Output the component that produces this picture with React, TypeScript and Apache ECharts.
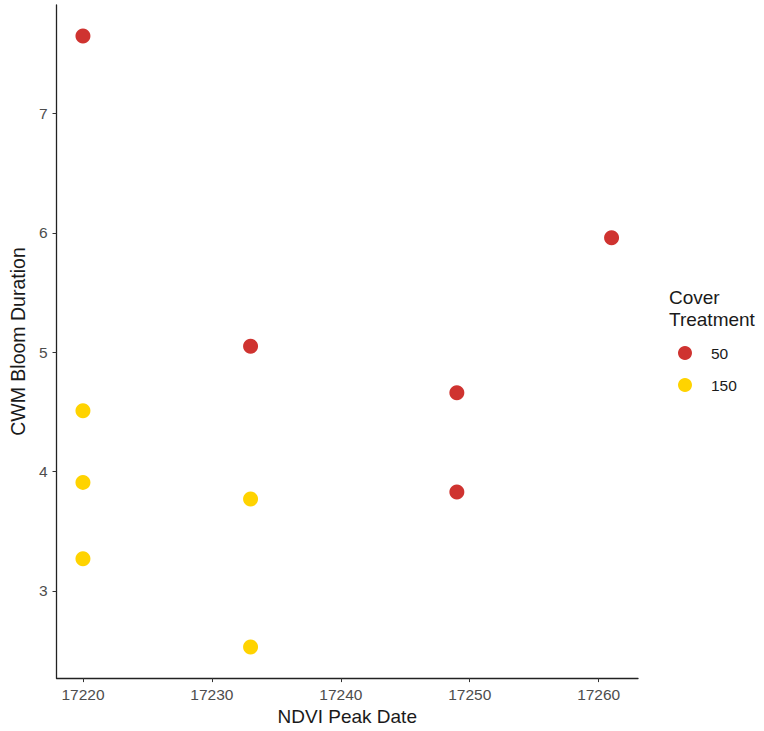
import React, { useEffect, useRef } from "react";
import * as echarts from "echarts";

const xTicks = [17220, 17230, 17240, 17250, 17260];
const yTicks = [3, 4, 5, 6, 7];

const seriesNames = ["50", "150"];
const seriesColors = ["#CF3330", "#FFD300"];

// [NDVI Peak Date, CWM Bloom Duration]
const cover50: [number, number][] = [
  [17220, 7.65],
  [17233, 5.05],
  [17249, 4.66],
  [17249, 3.83],
  [17261, 5.96],
];
const cover150: [number, number][] = [
  [17220, 4.51],
  [17220, 3.91],
  [17220, 3.27],
  [17233, 3.77],
  [17233, 2.53],
];

const FONT = "'Liberation Sans', Arial, Helvetica, sans-serif";

export default function App() {
  const ref = useRef<HTMLDivElement>(null);
  useEffect(() => {
    if (!ref.current) return;
    const chart = echarts.init(ref.current, null, { renderer: "svg" });
    const datasets = [cover50, cover150];
    chart.setOption({
      animation: false,
      backgroundColor: "#ffffff",
      textStyle: { fontFamily: FONT },
      grid: { left: 55, right: 126, top: 5, bottom: 49, containLabel: false },
      xAxis: {
        type: "value",
        min: 17217.95,
        max: 17263.05,
        name: "NDVI Peak Date",
        nameLocation: "middle",
        nameGap: 26,
        nameTextStyle: { color: "#1a1a1a", fontSize: 19, fontFamily: FONT },
        axisLine: { show: true, lineStyle: { color: "#222", width: 1.3 } },
        axisTick: {
          show: true,
          length: 4,
          lineStyle: { color: "#333" },
          customValues: xTicks,
        },
        axisLabel: {
          color: "#4d4d4d",
          fontSize: 15.5,
          margin: 8,
          fontFamily: FONT,
          customValues: xTicks,
          formatter: (v: number) => String(v),
        },
        splitLine: { show: false },
      },
      yAxis: {
        type: "value",
        min: 2.27,
        max: 7.91,
        name: "CWM Bloom Duration",
        nameLocation: "middle",
        nameGap: 25,
        nameTextStyle: { color: "#1a1a1a", fontSize: 19.5, fontFamily: FONT },
        axisLine: { show: true, lineStyle: { color: "#222", width: 1.3 } },
        axisTick: {
          show: true,
          length: 4,
          lineStyle: { color: "#333" },
          customValues: yTicks,
        },
        axisLabel: {
          color: "#4d4d4d",
          fontSize: 15.5,
          margin: 9,
          fontFamily: FONT,
          customValues: yTicks,
          formatter: (v: number) => String(v),
        },
        splitLine: { show: false },
      },
      legend: {
        orient: "vertical",
        left: 678,
        top: 345,
        padding: 0,
        itemWidth: 14,
        itemHeight: 14,
        itemGap: 16,
        icon: "circle",
        data: seriesNames,
        textStyle: {
          color: "#1a1a1a",
          fontSize: 15.5,
          fontFamily: FONT,
          padding: [0, 0, 0, 14],
        },
      },
      graphic: [
        {
          type: "text",
          left: 669,
          top: 286,
          style: {
            text: "Cover\nTreatment",
            fill: "#1a1a1a",
            font: `19px ${FONT}`,
            lineHeight: 22,
          },
        },
      ],
      series: seriesNames.map((name, i) => ({
        name,
        type: "scatter",
        data: datasets[i],
        symbol: "circle",
        symbolSize: 15,
        itemStyle: { color: seriesColors[i], opacity: 1 },
      })),
    });
    return () => chart.dispose();
  }, []);
  return (
    <div
      ref={ref}
      style={{ position: "fixed", left: 0, top: 0, width: 764, height: 731 }}
    />
  );
}
